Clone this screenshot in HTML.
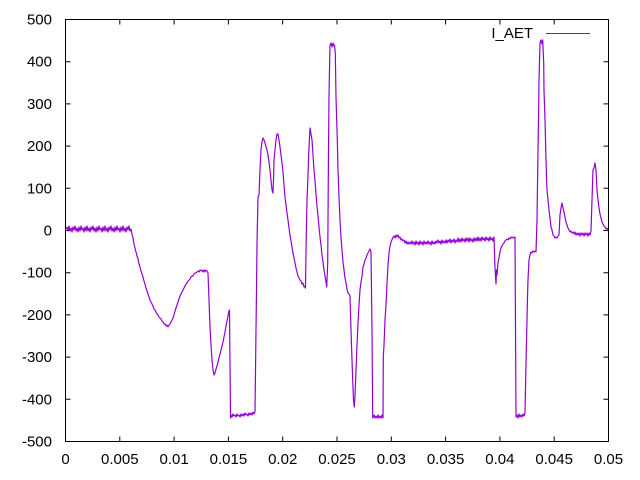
<!DOCTYPE html>
<html><head><meta charset="utf-8"><style>
html,body{margin:0;padding:0;background:#fff;}
svg{display:block;}
text{font-family:"Liberation Sans",Arial,sans-serif;font-size:15px;fill:#000;}
</style></head><body>
<svg width="640" height="480" viewBox="0 0 640 480" xmlns="http://www.w3.org/2000/svg">
<rect width="640" height="480" fill="#fff"/>
<g stroke="#000" stroke-width="1" fill="none">
<rect x="65.5" y="19.5" width="543" height="422"/>
<path d="M65.5 19.5h5M608.5 19.5h-5M65.5 61.7h5M608.5 61.7h-5M65.5 103.9h5M608.5 103.9h-5M65.5 146.1h5M608.5 146.1h-5M65.5 188.3h5M608.5 188.3h-5M65.5 230.5h5M608.5 230.5h-5M65.5 272.7h5M608.5 272.7h-5M65.5 314.9h5M608.5 314.9h-5M65.5 357.1h5M608.5 357.1h-5M65.5 399.3h5M608.5 399.3h-5M65.5 441.5h5M608.5 441.5h-5"/>
<path d="M65.5 441.5v-5M65.5 19.5v5M119.8 441.5v-5M119.8 19.5v5M174.1 441.5v-5M174.1 19.5v5M228.4 441.5v-5M228.4 19.5v5M282.7 441.5v-5M282.7 19.5v5M337 441.5v-5M337 19.5v5M391.3 441.5v-5M391.3 19.5v5M445.6 441.5v-5M445.6 19.5v5M499.9 441.5v-5M499.9 19.5v5M554.2 441.5v-5M554.2 19.5v5M608.5 441.5v-5M608.5 19.5v5"/>
</g>
<g text-anchor="end">
<text x="52" y="24.5">500</text>
<text x="52" y="66.7">400</text>
<text x="52" y="108.9">300</text>
<text x="52" y="151.1">200</text>
<text x="52" y="193.3">100</text>
<text x="52" y="235.5">0</text>
<text x="52" y="277.7">-100</text>
<text x="52" y="319.9">-200</text>
<text x="52" y="362.1">-300</text>
<text x="52" y="404.3">-400</text>
<text x="52" y="446.5">-500</text>
</g>
<g text-anchor="middle">
<text x="65.5" y="464">0</text>
<text x="119.8" y="464">0.005</text>
<text x="174.1" y="464">0.01</text>
<text x="228.4" y="464">0.015</text>
<text x="282.7" y="464">0.02</text>
<text x="337" y="464">0.025</text>
<text x="391.3" y="464">0.03</text>
<text x="445.6" y="464">0.035</text>
<text x="499.9" y="464">0.04</text>
<text x="554.2" y="464">0.045</text>
<text x="608.5" y="464">0.05</text>
</g>
<text x="533" y="38" text-anchor="end">I_AET</text>
<line x1="546" y1="33.5" x2="590" y2="33.5" stroke="#9400d3" stroke-width="1"/>
<polyline fill="none" stroke="#9400d3" stroke-width="1.2" stroke-linejoin="round" points="
66,229 67,227 68,231 69,226 70,231 71,228 72,232 73,227 74,230 75,226 76,231 77,228 78,232 79,227 80,231 81,226 82,230 83,228 84,232 85,227 86,231 87,226 88,231 89,228 90,232 91,227 92,230 93,226 94,231 95,228 96,232 97,227 98,231 99,226 100,230 101,228 102,232 103,227 104,231 105,226 106,231 107,228 108,232 109,227 110,230 111,226 112,231 113,228 114,232 115,227 116,231 117,226 118,230 119,228 120,232 121,227 122,231 123,226 124,231 125,228 126,232 127,227 128,230 129,226 130,231 131,229
132,234 133,238 134,244 135,248 136,252 137,256 138,259 139,264 140,267 141,271 142,274 143,277 144,281 145,284 146,288 147,291 148,294 149,297 150,300 151,302 152,304 153,306 154,309 155,310 156,312 157,314 158,315 159,317 160,318 161,319 162,321 163,322 164,324 165,324 166,326 167,325 168,327 169,325 170,324 171,322 172,320 173,318 174,315 175,311 176,308 177,305 178,302 179,299 180,296 181,294 182,292 183,290 184,288 185,286 186,284 187,283 188,281 189,280 190,279 191,277 192,276 193,276 194,274 195,273 196,273 197,272 198,271 199,272 200,270 201,271 202,270 203,272 204,270 205,272 206,270 207,271 208,273
209,300 210,327 211,345 212,360 213,370 214,375 215,373 216,369 217,366 218,362 219,358 220,354 221,350 222,346 223,342 224,337 225,332 226,326 227,321 228,316 229,311 229.5,310
230.5,418 231,415 232,417 233,414 234,416 235,415 236,417 237,414 238,416 239,415 240,417 241,414 242,416 243,414 244,416 245,413 246,415 247,414 248,416 249,413 250,415 251,413 252,415 253,412 254,414 255,412
256,330 256.5,290 257,243 258,197 259,195 260,170 261,150 262,142 263,138 264,140 265,143 266,147 267,150 268,155 269,162 270,170 271,180 272,190 273,193 273.5,180 274,160 275,150 276,140 277,134 278,134 279,140 280,147 281,155 282,163 283,172 284,185 285,197 286,205 287,213 288,220 289,228 290,235 291,241 292,247 293,253 294,258 295,263 296,268 297,272 298,276 299,278 300,280 301,281 302,284 303,283 304,287 305,286 305.5,288
306,250 307,200 307.7,183 308.5,160 309,147 310,128 311,134 312,140 313,155 314,170 315,181 316,194 317,206 318,216 319,227 320,237 321,245 322,255 323,262 324,270 325,276 326,282 326.7,287
327.7,263 328.5,150 329,97 329.5,70 330,45 331,43 332,47 333,43 334,46 334.5,45 335.3,53 336,97 337,130 337.3,140 338,170 339,197 340,220 341,237 342,250 343,262 344,270 345,278 346,283 347,289 348,293 349,294 350,296
351,330 352,360 352.7,380 353.5,400 354.3,407 355,395 356,370 357,345 358,323 359,305 360,290 361,282 362,276 363,267 364,264 365,260 366,258 367,255 368,253 369,251 370,249 371,252
372,330 372.7,418 374,415 375,418 376,416 377,418 378,415 379,418 380,416 381,418 382,415 383,418
383.3,357 384,345 385,320 386,305 386.7,290 388,265 389.3,250 391,242 392.7,238 394,236 395,238 396,235 397,237 398,235 399,238 400,237 401,240 402,239 403,241 404,240 405,243 406,241 407,244 408,242 409,244 410,242
411,244 412,241 413,244 414,242 415,245 416,241 417,244 418,242 419,245 420,241 421,244 422,242 423,245 424,241 425,244 426,242 427,244 428,241 429,244 430,242 431,245 432,241 433,244 434,242 435,244 436,241 437,243 438,240 439,243 440,241 441,244 442,240 443,243 444,241 445,243 446,240 447,243 448,240 449,242 450,239 451,243 452,240 453,242 454,239 455,243 456,240 457,242 458,238 459,242 460,239 461,242 462,238 463,241 464,239 465,242 466,238 467,241 468,238 469,242 470,238 471,241 472,239 473,242 474,238 475,241 476,238 477,241 478,237 479,241 480,238 481,241 482,237 483,240 484,238 485,241 486,237 487,240 488,238 489,241 490,237 491,240 492,238 493,241 494,237
495,268 496,284 496.5,270 497,275 498,263 499,258 500,252 501,248 502,246 503,244 504,243 505,241 506,240 507,239 508,240 509,238 510,239 511,237 512,238 513,237 514,238 515,237
516,417 517,415 518,418 519,414 520,417 521,415 522,417 523,414 524,416 525,413
526,363 527,320 527.5,297 528,280 529,260 530,255 531,252 532,253 533,251 534,252 535,251 536,252 537,220 538,150 538.5,120 539,80 540,43 541,40 542,44 542.7,40 543.7,63 544,90 545,120 546,160 546.7,183 547,190 548,200 549,210 550,218 551,227 552,230 553,235 554,236 555,238 556,237 557,238 558,236 559,235
560,215 561,208 562,203 563,208 564,212 565,217 566,222 567,225 568,228 569,230 570,232 571,231 572,233 573,232 574,234 575,232 576,235 577,233 578,235 579,233 580,236 581,233 582,235 583,233 584,236 585,233 586,235 587,233 588,236 589,233 590,235 591,231
592,200 593,170 594,168 595,163 596,170 597,190 598,200 599,208 600,214 601,218 602,222 603,224 604,226 605,227 606,229 607,228 608,231"/>
</svg>
</body></html>
